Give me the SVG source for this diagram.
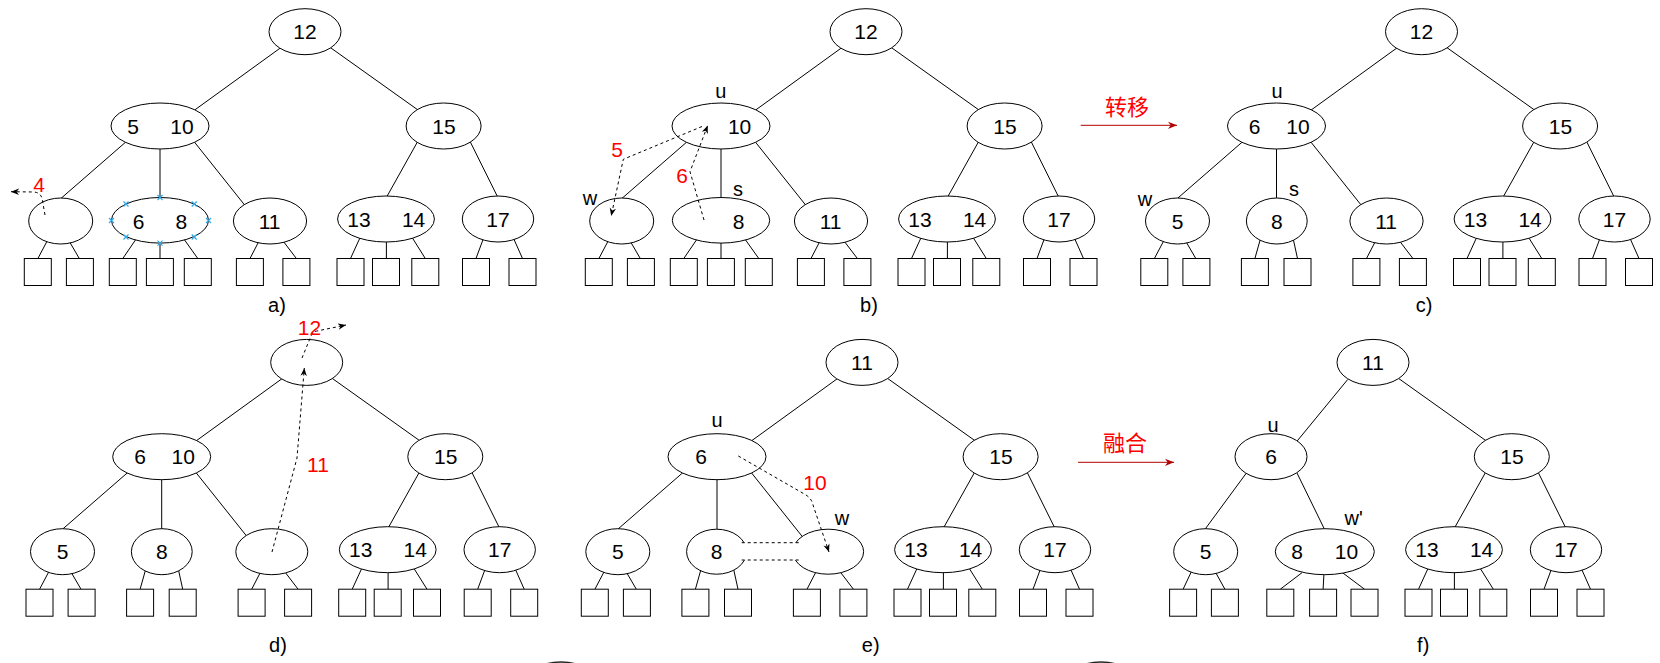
<svg xmlns="http://www.w3.org/2000/svg" width="1660" height="663" viewBox="0 0 1660 663">
<defs>
<style>
.edges line{stroke:#000;stroke-width:1}
.node ellipse,.node path{fill:#fff;stroke:#000;stroke-width:1}
.node path.pin{stroke:#2ea8e6;stroke-width:1.2;fill:none}
.leaf rect{fill:#fff;stroke:#000;stroke-width:1}
text{font-family:"Liberation Sans",Arial,sans-serif}
.k{font-size:21px;text-anchor:middle;fill:#000}
.lb{font-size:20px;text-anchor:middle;fill:#000}
.cap{font-size:20px;text-anchor:middle;fill:#000}
.rn{font-size:21px;fill:#f00;text-anchor:middle}
.zh{font-family:"Liberation Sans","Noto Sans CJK SC",sans-serif;font-size:22px;fill:#f00;text-anchor:middle}
.dash{fill:none;stroke:#000;stroke-width:1;stroke-dasharray:3 3}
.flow{stroke:#b20000;stroke-width:1}
.band{fill:#fff;stroke:none}
.edge-cut{fill:#fff;stroke:#222;stroke-width:1.5}
</style>
<marker id="ah" viewBox="0 0 10 10" refX="10" refY="5" markerWidth="8" markerHeight="8" markerUnits="userSpaceOnUse" orient="auto">
<path d="M0,1 L10,5 L0,9 L3,5 Z" fill="#000"/>
</marker>
<marker id="ahr" viewBox="0 0 10 10" refX="10" refY="5" markerWidth="9" markerHeight="9" markerUnits="userSpaceOnUse" orient="auto">
<path d="M0,1 L10,5 L0,9 L3,5 Z" fill="#b20000"/>
</marker>
</defs>
<rect width="1660" height="663" fill="#fff"/>

<!-- a) tree with the empty leaf -->
<g id="panel-a">
<g class="edges" id="a-edges">
<line x1="281" y1="47.5" x2="192.2" y2="111.8"/>
<line x1="329" y1="46.6" x2="419.4" y2="111"/>
<line x1="126.6" y1="141.3" x2="59.1" y2="200"/>
<line x1="160" y1="146" x2="160" y2="200"/>
<line x1="193.1" y1="140.4" x2="246.2" y2="207"/>
<line x1="418" y1="140.9" x2="385.8" y2="198.5"/>
<line x1="469.8" y1="140.9" x2="498.4" y2="198.5"/>
<line x1="47.5" y1="240.3" x2="37.9" y2="258.5"/>
<line x1="69.5" y1="241.7" x2="79.3" y2="258.5"/>
<line x1="136.2" y1="238.9" x2="122.8" y2="258.5"/>
<line x1="160" y1="242" x2="160" y2="258.5"/>
<line x1="183.8" y1="238.9" x2="197.8" y2="258.5"/>
<line x1="258.9" y1="241.3" x2="250" y2="258.5"/>
<line x1="283.8" y1="242" x2="296.4" y2="258.5"/>
<line x1="359.9" y1="238" x2="350.5" y2="258.5"/>
<line x1="386.4" y1="239.3" x2="386.4" y2="258.5"/>
<line x1="412" y1="237.3" x2="425.3" y2="258.5"/>
<line x1="483.6" y1="238" x2="476" y2="258.5"/>
<line x1="513.4" y1="238" x2="522.5" y2="258.5"/>
</g>
<g id="a-n12" class="node"><ellipse cx="305" cy="31.7" rx="36" ry="23"/><text class="k" x="305" y="39.2">12</text></g>
<g id="a-n5-10" class="node"><ellipse cx="160" cy="126" rx="49" ry="23"/><text class="k" x="133" y="133.5">5</text><text class="k" x="182" y="133.5">10</text></g>
<g id="a-n15" class="node"><ellipse cx="443.6" cy="126" rx="37.5" ry="23"/><text class="k" x="444" y="133.5">15</text></g>
<g id="a-nempty" class="node"><ellipse cx="60.7" cy="221" rx="32" ry="23"/></g>
<g id="a-n6-8" class="node"><ellipse cx="160" cy="220.3" rx="48.5" ry="22.8"/><text class="k" x="138.6" y="228.5">6</text><text class="k" x="181.4" y="228.5">8</text>
<path class="pin" d="M123.5,201.5l5,5m0,-5l-5,5 M157.5,195l5,5m0,-5l-5,5 M191.7,201.5l5,5m0,-5l-5,5 M109,218l5,5m0,-5l-5,5 M206,218l5,5m0,-5l-5,5 M123.5,234.5l5,5m0,-5l-5,5 M157.5,240.6l5,5m0,-5l-5,5 M191.7,234.5l5,5m0,-5l-5,5"/></g>
<g id="a-n11" class="node"><ellipse cx="270" cy="221" rx="36.6" ry="23"/><text class="k" x="269.6" y="228.5">11</text></g>
<g id="a-n13-14" class="node"><ellipse cx="386" cy="219" rx="48.4" ry="23"/><text class="k" x="359" y="226.5">13</text><text class="k" x="413.6" y="226.5">14</text></g>
<g id="a-n17" class="node"><ellipse cx="498" cy="219" rx="35.7" ry="23"/><text class="k" x="498" y="226.5">17</text></g>
<g id="a-leaves" class="leaf">
<rect x="24.3" y="258.5" width="27" height="27"/><rect x="66.4" y="258.5" width="27" height="27"/>
<rect x="109.3" y="258.5" width="27" height="27"/><rect x="146.4" y="258.5" width="27" height="27"/><rect x="184.3" y="258.5" width="27" height="27"/>
<rect x="236.4" y="258.5" width="27" height="27"/><rect x="282.9" y="258.5" width="27" height="27"/>
<rect x="337" y="258.5" width="27" height="27"/><rect x="372.5" y="258.5" width="27" height="27"/><rect x="411.8" y="258.5" width="27" height="27"/>
<rect x="462.5" y="258.5" width="27" height="27"/><rect x="509" y="258.5" width="27" height="27"/>
</g>
</g>

<!-- b) borrowing from the sibling s -->
<g id="panel-b" transform="translate(561 0)">
<g class="edges" id="b-edges">
<line x1="281" y1="47.5" x2="192.2" y2="111.8"/>
<line x1="329" y1="46.6" x2="419.4" y2="111"/>
<line x1="126.6" y1="141.3" x2="59.1" y2="200"/>
<line x1="160" y1="146" x2="160" y2="200"/>
<line x1="193.1" y1="140.4" x2="246.2" y2="207"/>
<line x1="418" y1="140.9" x2="385.8" y2="198.5"/>
<line x1="469.8" y1="140.9" x2="498.4" y2="198.5"/>
<line x1="47.5" y1="240.3" x2="37.9" y2="258.5"/>
<line x1="69.5" y1="241.7" x2="79.3" y2="258.5"/>
<line x1="136.2" y1="238.9" x2="122.8" y2="258.5"/>
<line x1="160" y1="242" x2="160" y2="258.5"/>
<line x1="183.8" y1="238.9" x2="197.8" y2="258.5"/>
<line x1="258.9" y1="241.3" x2="250" y2="258.5"/>
<line x1="283.8" y1="242" x2="296.4" y2="258.5"/>
<line x1="359.9" y1="238" x2="350.5" y2="258.5"/>
<line x1="386.4" y1="239.3" x2="386.4" y2="258.5"/>
<line x1="412" y1="237.3" x2="425.3" y2="258.5"/>
<line x1="483.6" y1="238" x2="476" y2="258.5"/>
<line x1="513.4" y1="238" x2="522.5" y2="258.5"/>
</g>
<g id="b-n12" class="node"><ellipse cx="305" cy="31.7" rx="36" ry="23"/><text class="k" x="305" y="39.2">12</text></g>
<g id="b-u" class="node"><ellipse cx="160" cy="126" rx="49" ry="23"/><text class="k" x="178.6" y="133.5">10</text><text class="lb" x="159.7" y="98">u</text></g>
<g id="b-n15" class="node"><ellipse cx="443.6" cy="126" rx="37.5" ry="23"/><text class="k" x="444" y="133.5">15</text></g>
<g id="b-w" class="node"><ellipse cx="60.7" cy="221" rx="32" ry="23"/><text class="lb" x="29" y="204.5">w</text></g>
<g id="b-s" class="node"><ellipse cx="160" cy="220.3" rx="48.7" ry="22.8"/><text class="k" x="177.6" y="228.5">8</text><text class="lb" x="177" y="196">s</text></g>
<g id="b-n11" class="node"><ellipse cx="270" cy="221" rx="36.6" ry="23"/><text class="k" x="269.6" y="228.5">11</text></g>
<g id="b-n13-14" class="node"><ellipse cx="386" cy="219" rx="48.4" ry="23"/><text class="k" x="359" y="226.5">13</text><text class="k" x="413.6" y="226.5">14</text></g>
<g id="b-n17" class="node"><ellipse cx="498" cy="219" rx="35.7" ry="23"/><text class="k" x="498" y="226.5">17</text></g>
<g id="b-leaves" class="leaf">
<rect x="24.3" y="258.5" width="27" height="27"/><rect x="66.4" y="258.5" width="27" height="27"/>
<rect x="109.3" y="258.5" width="27" height="27"/><rect x="146.4" y="258.5" width="27" height="27"/><rect x="184.3" y="258.5" width="27" height="27"/>
<rect x="236.4" y="258.5" width="27" height="27"/><rect x="282.9" y="258.5" width="27" height="27"/>
<rect x="337" y="258.5" width="27" height="27"/><rect x="372.5" y="258.5" width="27" height="27"/><rect x="411.8" y="258.5" width="27" height="27"/>
<rect x="462.5" y="258.5" width="27" height="27"/><rect x="509" y="258.5" width="27" height="27"/>
</g>
</g>

<!-- c) after the transfer -->
<g id="panel-c" transform="translate(1116.5 0)">
<g class="edges" id="c-edges">
<line x1="281" y1="47.5" x2="192.2" y2="111.8"/>
<line x1="329" y1="46.6" x2="419.4" y2="111"/>
<line x1="126.6" y1="141.3" x2="59.1" y2="200"/>
<line x1="160" y1="146" x2="160" y2="200"/>
<line x1="193.1" y1="140.4" x2="246.2" y2="207"/>
<line x1="418" y1="140.9" x2="385.8" y2="198.5"/>
<line x1="469.8" y1="140.9" x2="498.4" y2="198.5"/>
<line x1="47.5" y1="240.3" x2="37.9" y2="258.5"/>
<line x1="69.5" y1="241.7" x2="79.3" y2="258.5"/>
<line x1="143.8" y1="239.3" x2="138.4" y2="258.5"/>
<line x1="176.8" y1="239.3" x2="181" y2="258.5"/>
<line x1="258.9" y1="241.3" x2="250" y2="258.5"/>
<line x1="283.8" y1="242" x2="296.4" y2="258.5"/>
<line x1="359.9" y1="238" x2="350.5" y2="258.5"/>
<line x1="386.4" y1="239.3" x2="386.4" y2="258.5"/>
<line x1="412" y1="237.3" x2="425.3" y2="258.5"/>
<line x1="483.6" y1="238" x2="476" y2="258.5"/>
<line x1="513.4" y1="238" x2="522.5" y2="258.5"/>
</g>
<g id="c-n12" class="node"><ellipse cx="305" cy="31.7" rx="36" ry="23"/><text class="k" x="305" y="39.2">12</text></g>
<g id="c-u" class="node"><ellipse cx="160" cy="126" rx="49" ry="23"/><text class="k" x="138.1" y="133.5">6</text><text class="k" x="181.5" y="133.5">10</text><text class="lb" x="160.5" y="98">u</text></g>
<g id="c-n15" class="node"><ellipse cx="443.6" cy="126" rx="37.5" ry="23"/><text class="k" x="444" y="133.5">15</text></g>
<g id="c-w" class="node"><ellipse cx="61" cy="221" rx="32" ry="23"/><text class="k" x="61" y="228.5">5</text><text class="lb" x="28.5" y="205.5">w</text></g>
<g id="c-s" class="node"><ellipse cx="160.3" cy="221" rx="30.4" ry="23"/><text class="k" x="160.3" y="228.5">8</text><text class="lb" x="177.5" y="196">s</text></g>
<g id="c-n11" class="node"><ellipse cx="270" cy="221" rx="36.6" ry="23"/><text class="k" x="269.6" y="228.5">11</text></g>
<g id="c-n13-14" class="node"><ellipse cx="386" cy="219" rx="48.4" ry="23"/><text class="k" x="359" y="226.5">13</text><text class="k" x="413.6" y="226.5">14</text></g>
<g id="c-n17" class="node"><ellipse cx="498" cy="219" rx="35.7" ry="23"/><text class="k" x="498" y="226.5">17</text></g>
<g id="c-leaves" class="leaf">
<rect x="24.3" y="258.5" width="27" height="27"/><rect x="66.4" y="258.5" width="27" height="27"/>
<rect x="124.9" y="258.5" width="27" height="27"/><rect x="167.5" y="258.5" width="27" height="27"/>
<rect x="236.4" y="258.5" width="27" height="27"/><rect x="282.9" y="258.5" width="27" height="27"/>
<rect x="337" y="258.5" width="27" height="27"/><rect x="372.5" y="258.5" width="27" height="27"/><rect x="411.8" y="258.5" width="27" height="27"/>
<rect x="462.5" y="258.5" width="27" height="27"/><rect x="509" y="258.5" width="27" height="27"/>
</g>
</g>

<!-- d) deleting 11 moves it up to the root -->
<g id="panel-d" transform="translate(1.7 330.7)">
<g class="edges" id="d-edges">
<line x1="281" y1="47.5" x2="192.2" y2="111.8"/>
<line x1="329" y1="46.6" x2="419.4" y2="111"/>
<line x1="126.6" y1="141.3" x2="59.1" y2="200"/>
<line x1="160" y1="146" x2="160" y2="200"/>
<line x1="193.1" y1="140.4" x2="246.2" y2="207"/>
<line x1="418" y1="140.9" x2="385.8" y2="198.5"/>
<line x1="469.8" y1="140.9" x2="498.4" y2="198.5"/>
<line x1="47.5" y1="240.3" x2="37.9" y2="258.5"/>
<line x1="69.5" y1="241.7" x2="79.3" y2="258.5"/>
<line x1="143.8" y1="239.3" x2="138.4" y2="258.5"/>
<line x1="176.8" y1="239.3" x2="181" y2="258.5"/>
<line x1="258.9" y1="241.3" x2="250" y2="258.5"/>
<line x1="283.8" y1="242" x2="296.4" y2="258.5"/>
<line x1="359.9" y1="238" x2="350.5" y2="258.5"/>
<line x1="386.4" y1="239.3" x2="386.4" y2="258.5"/>
<line x1="412" y1="237.3" x2="425.3" y2="258.5"/>
<line x1="483.6" y1="238" x2="476" y2="258.5"/>
<line x1="513.4" y1="238" x2="522.5" y2="258.5"/>
</g>
<g id="d-root" class="node"><ellipse cx="305" cy="31.7" rx="36" ry="23"/></g>
<g id="d-n6-10" class="node"><ellipse cx="160" cy="126" rx="49" ry="23"/><text class="k" x="138.3" y="133.5">6</text><text class="k" x="181.5" y="133.5">10</text></g>
<g id="d-n15" class="node"><ellipse cx="443.6" cy="126" rx="37.5" ry="23"/><text class="k" x="444" y="133.5">15</text></g>
<g id="d-n5" class="node"><ellipse cx="60.8" cy="221" rx="32" ry="23"/><text class="k" x="60.8" y="228.5">5</text></g>
<g id="d-n8" class="node"><ellipse cx="160.1" cy="221" rx="30.4" ry="23"/><text class="k" x="160.1" y="228.5">8</text></g>
<g id="d-nempty" class="node"><ellipse cx="270.1" cy="221" rx="36" ry="23"/></g>
<g id="d-n13-14" class="node"><ellipse cx="386" cy="219" rx="48.4" ry="23"/><text class="k" x="359" y="226.5">13</text><text class="k" x="413.6" y="226.5">14</text></g>
<g id="d-n17" class="node"><ellipse cx="498" cy="219" rx="35.7" ry="23"/><text class="k" x="498" y="226.5">17</text></g>
<g id="d-leaves" class="leaf">
<rect x="24.3" y="258.5" width="27" height="27"/><rect x="66.4" y="258.5" width="27" height="27"/>
<rect x="124.9" y="258.5" width="27" height="27"/><rect x="167.5" y="258.5" width="27" height="27"/>
<rect x="236.4" y="258.5" width="27" height="27"/><rect x="282.9" y="258.5" width="27" height="27"/>
<rect x="337" y="258.5" width="27" height="27"/><rect x="372.5" y="258.5" width="27" height="27"/><rect x="411.8" y="258.5" width="27" height="27"/>
<rect x="462.5" y="258.5" width="27" height="27"/><rect x="509" y="258.5" width="27" height="27"/>
</g>
</g>

<!-- e) 10 moves down into w, which merges with 8 -->
<g id="panel-e" transform="translate(557 330.7)">
<g class="edges" id="e-edges">
<line x1="281" y1="47.5" x2="192.2" y2="111.8"/>
<line x1="329" y1="46.6" x2="419.4" y2="111"/>
<line x1="126.6" y1="141.3" x2="59.1" y2="200"/>
<line x1="160" y1="146" x2="160" y2="200"/>
<line x1="193.1" y1="140.4" x2="246.2" y2="207"/>
<line x1="418" y1="140.9" x2="385.8" y2="198.5"/>
<line x1="469.8" y1="140.9" x2="498.4" y2="198.5"/>
<line x1="47.5" y1="240.3" x2="37.9" y2="258.5"/>
<line x1="69.5" y1="241.7" x2="79.3" y2="258.5"/>
<line x1="143.8" y1="239.3" x2="138.4" y2="258.5"/>
<line x1="176.8" y1="239.3" x2="181" y2="258.5"/>
<line x1="258.9" y1="241.3" x2="250" y2="258.5"/>
<line x1="283.8" y1="242" x2="296.4" y2="258.5"/>
<line x1="359.9" y1="238" x2="350.5" y2="258.5"/>
<line x1="386.4" y1="239.3" x2="386.4" y2="258.5"/>
<line x1="412" y1="237.3" x2="425.3" y2="258.5"/>
<line x1="483.6" y1="238" x2="476" y2="258.5"/>
<line x1="513.4" y1="238" x2="522.5" y2="258.5"/>
</g>
<g id="e-n11" class="node"><ellipse cx="305" cy="31.7" rx="36" ry="23"/><text class="k" x="305" y="39.2">11</text></g>
<g id="e-u" class="node"><ellipse cx="160" cy="126" rx="49" ry="23"/><text class="k" x="144" y="133.5">6</text><text class="lb" x="160" y="96.3">u</text></g>
<g id="e-n15" class="node"><ellipse cx="443.6" cy="126" rx="37.5" ry="23"/><text class="k" x="444" y="133.5">15</text></g>
<g id="e-n5" class="node"><ellipse cx="60.8" cy="221" rx="32" ry="23"/><text class="k" x="60.8" y="228.5">5</text></g>
<g id="e-n8" class="node"><ellipse cx="159.6" cy="221" rx="30" ry="22.5"/><text class="k" x="159.6" y="228.5">8</text></g>
<g id="e-w" class="node"><ellipse cx="271.2" cy="221" rx="35.4" ry="22.5"/><text class="lb" x="285" y="194.8">w</text></g>
<g id="e-merge" class="node"><rect class="band" x="184.7" y="212" width="60" height="17.3"/><line class="dash" x1="184.7" y1="212" x2="244.7" y2="212"/><line class="dash" x1="184.7" y1="229.3" x2="244.7" y2="229.3"/></g>
<g id="e-n13-14" class="node"><ellipse cx="386" cy="219" rx="48.4" ry="23"/><text class="k" x="359" y="226.5">13</text><text class="k" x="413.6" y="226.5">14</text></g>
<g id="e-n17" class="node"><ellipse cx="498" cy="219" rx="35.7" ry="23"/><text class="k" x="498" y="226.5">17</text></g>
<g id="e-leaves" class="leaf">
<rect x="24.3" y="258.5" width="27" height="27"/><rect x="66.4" y="258.5" width="27" height="27"/>
<rect x="124.9" y="258.5" width="27" height="27"/><rect x="167.5" y="258.5" width="27" height="27"/>
<rect x="236.4" y="258.5" width="27" height="27"/><rect x="282.9" y="258.5" width="27" height="27"/>
<rect x="337" y="258.5" width="27" height="27"/><rect x="372.5" y="258.5" width="27" height="27"/><rect x="411.8" y="258.5" width="27" height="27"/>
<rect x="462.5" y="258.5" width="27" height="27"/><rect x="509" y="258.5" width="27" height="27"/>
</g>
</g>

<!-- f) after the merge -->
<g id="panel-f" transform="translate(1068 330.7)">
<g class="edges" id="f-edges">
<line x1="279.7" y1="48.8" x2="228.2" y2="111.5"/>
<line x1="329" y1="46.6" x2="419.4" y2="111"/>
<line x1="179" y1="141.5" x2="137.2" y2="198.3"/>
<line x1="228.6" y1="141.5" x2="257.2" y2="200"/>
<line x1="418" y1="140.9" x2="385.8" y2="198.5"/>
<line x1="469.8" y1="140.9" x2="498.4" y2="198.5"/>
<line x1="124" y1="239.6" x2="115.1" y2="258.5"/>
<line x1="147" y1="240.6" x2="156.9" y2="258.5"/>
<line x1="234" y1="242" x2="212.3" y2="258.5"/>
<line x1="256" y1="242" x2="255.1" y2="258.5"/>
<line x1="274.5" y1="242" x2="296.5" y2="258.5"/>
<line x1="359.9" y1="238" x2="350.5" y2="258.5"/>
<line x1="386.4" y1="239.3" x2="386.4" y2="258.5"/>
<line x1="412" y1="237.3" x2="425.3" y2="258.5"/>
<line x1="483.6" y1="238" x2="476" y2="258.5"/>
<line x1="513.4" y1="238" x2="522.5" y2="258.5"/>
</g>
<g id="f-n11" class="node"><ellipse cx="305" cy="31.7" rx="36" ry="23"/><text class="k" x="305" y="39.2">11</text></g>
<g id="f-u" class="node"><ellipse cx="203" cy="126" rx="36" ry="23"/><text class="k" x="203" y="133.5">6</text><text class="lb" x="205" y="101.3">u</text></g>
<g id="f-n15" class="node"><ellipse cx="443.8" cy="126" rx="37.5" ry="23"/><text class="k" x="444" y="133.5">15</text></g>
<g id="f-n5" class="node"><ellipse cx="137.7" cy="221" rx="32" ry="23"/><text class="k" x="137.7" y="228.5">5</text></g>
<g id="f-w2" class="node"><ellipse cx="256.8" cy="221" rx="49.5" ry="23"/><text class="k" x="229" y="228.5">8</text><text class="k" x="278.4" y="228.5">10</text><text class="lb" x="285.6" y="194.8">w'</text></g>
<g id="f-n13-14" class="node"><ellipse cx="386" cy="219" rx="48.4" ry="23"/><text class="k" x="359" y="226.5">13</text><text class="k" x="413.6" y="226.5">14</text></g>
<g id="f-n17" class="node"><ellipse cx="498" cy="219" rx="35.7" ry="23"/><text class="k" x="498" y="226.5">17</text></g>
<g id="f-leaves" class="leaf">
<rect x="101.6" y="258.5" width="27" height="27"/><rect x="143.4" y="258.5" width="27" height="27"/>
<rect x="198.8" y="258.5" width="27" height="27"/><rect x="241.6" y="258.5" width="27" height="27"/><rect x="283" y="258.5" width="27" height="27"/>
<rect x="337" y="258.5" width="27" height="27"/><rect x="372.5" y="258.5" width="27" height="27"/><rect x="411.8" y="258.5" width="27" height="27"/>
<rect x="462.5" y="258.5" width="27" height="27"/><rect x="509" y="258.5" width="27" height="27"/>
</g>
</g>

<!-- key movements -->
<g id="moves">
<path class="dash" d="M45,215 L42,198 Q40,192.5 34,192 L11,191.7" marker-end="url(#ah)"/>
<text class="rn" x="39" y="191.5">4</text>
<path class="dash" d="M702,126.5 L623.3,159.3 L611.2,216" marker-end="url(#ah)"/>
<text class="rn" x="617" y="156.5">5</text>
<path class="dash" d="M704,220 L690,171.7 L707.7,125.5" marker-end="url(#ah)"/>
<text class="rn" x="682" y="183">6</text>
<path class="dash" d="M272,552 L297,458 L304.3,368" marker-end="url(#ah)"/>
<text class="rn" x="318" y="471.5">11</text>
<path class="dash" d="M302,358 L311,336 Q313,331.5 318,330.8 L346,325" marker-end="url(#ah)"/>
<text class="rn" x="309.5" y="335">12</text>
<path class="dash" d="M738.3,456 L806,495 Q812,499 813,505 L829,552" marker-end="url(#ah)"/>
<text class="rn" x="815" y="490">10</text>
</g>

<!-- step arrows -->
<g id="steps">
<line class="flow" x1="1080.7" y1="125.3" x2="1177" y2="125.3" marker-end="url(#ahr)"/>
<text class="zh" x="1127" y="115">转移</text>
<line class="flow" x1="1078" y1="462.3" x2="1174" y2="462.3" marker-end="url(#ahr)"/>
<text class="zh" x="1125" y="451">融合</text>
</g>

<!-- captions -->
<g id="captions">
<text class="cap" x="277" y="312">a)</text>
<text class="cap" x="869" y="312">b)</text>
<text class="cap" x="1424" y="312">c)</text>
<text class="cap" x="278" y="652">d)</text>
<text class="cap" x="870.7" y="652">e)</text>
<text class="cap" x="1423.2" y="652">f)</text>
</g>

<!-- shapes cut off by the lower border -->
<g id="cut-shapes">
<ellipse class="edge-cut" cx="561" cy="685" rx="36" ry="23"/>
<ellipse class="edge-cut" cx="1101" cy="685" rx="36" ry="23"/>
</g>
</svg>
